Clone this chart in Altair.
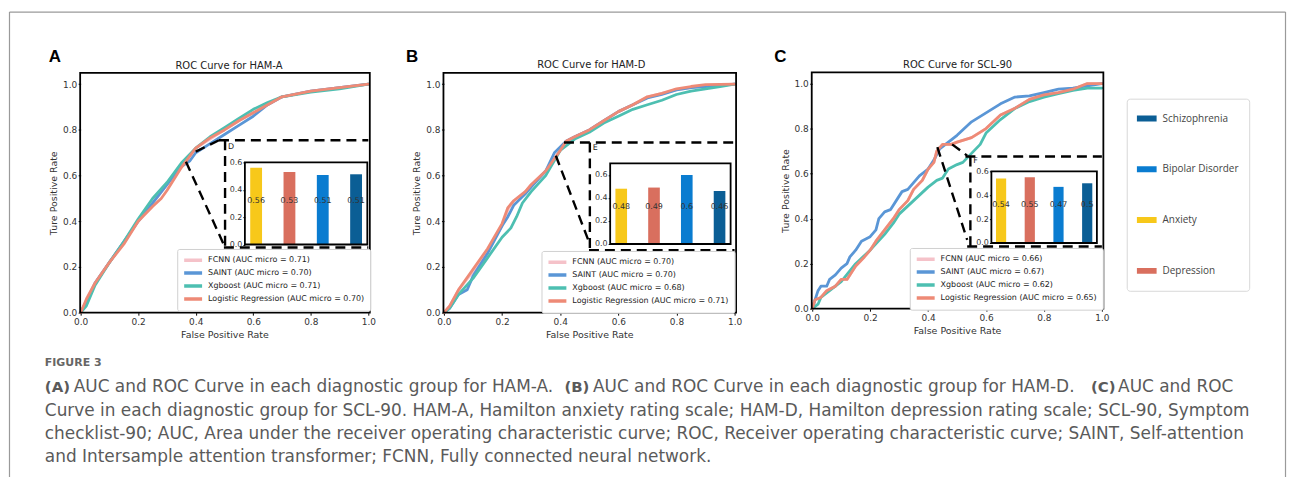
import altair as alt
import pandas as pd

W, H = 1285, 470


def P(v):
    """page pixel -> chart pixel (page has an 8px margin)"""
    return v - 8


# ------------------------------------------------------------------ data
models = ["FCNN", "SAINT", "Xgboost", "Logistic Regression"]
model_colors = ["#F5C2C9", "#5A96D6", "#4DBFB1", "#EE8A76"]

panel_ids = ["A", "B", "C"]
panel_titles = ["ROC Curve for HAM-A", "ROC Curve for HAM-D", "ROC Curve for SCL-90"]
inset_letters = ["D", "E", "F"]

auc_A = [0.71, 0.70, 0.71, 0.70]
auc_B = [0.70, 0.70, 0.68, 0.71]
auc_C = [0.66, 0.67, 0.62, 0.65]

# ROC curves (false positive rate, true positive rate)
A_fcnn_x = [0, 0.02, 0.05, 0.1, 0.15, 0.2, 0.25, 0.3, 0.35, 0.4, 0.45, 0.5, 0.55, 0.6, 0.65, 0.7, 0.8, 0.9, 1.0]
A_fcnn_y = [0, 0.05, 0.13, 0.22, 0.31, 0.40, 0.48, 0.56, 0.65, 0.72, 0.76, 0.80, 0.84, 0.875, 0.91, 0.945, 0.97, 0.985, 1.0]
A_saint_x = [0, 0.02, 0.05, 0.1, 0.15, 0.2, 0.25, 0.3, 0.35, 0.38, 0.4, 0.45, 0.5, 0.55, 0.6, 0.65, 0.7, 0.8, 0.9, 1.0]
A_saint_y = [0, 0.05, 0.13, 0.22, 0.31, 0.40, 0.48, 0.56, 0.64, 0.665, 0.70, 0.74, 0.78, 0.82, 0.86, 0.91, 0.945, 0.97, 0.985, 1.0]
A_xgb_x = [0, 0.02, 0.05, 0.1, 0.15, 0.2, 0.25, 0.3, 0.35, 0.4, 0.45, 0.5, 0.55, 0.6, 0.65, 0.7, 0.8, 0.9, 1.0]
A_xgb_y = [0, 0.03, 0.12, 0.22, 0.31, 0.41, 0.50, 0.57, 0.655, 0.72, 0.77, 0.81, 0.85, 0.89, 0.92, 0.945, 0.965, 0.98, 1.0]
A_lr_x = [0, 0.02, 0.05, 0.1, 0.15, 0.2, 0.25, 0.28, 0.3, 0.35, 0.4, 0.45, 0.5, 0.55, 0.6, 0.65, 0.7, 0.8, 0.9, 1.0]
A_lr_y = [0, 0.06, 0.13, 0.22, 0.30, 0.40, 0.465, 0.50, 0.535, 0.635, 0.72, 0.765, 0.80, 0.84, 0.875, 0.91, 0.945, 0.97, 0.985, 1.0]

B_fcnn_x = [0, 0.02, 0.05, 0.1, 0.15, 0.2, 0.22, 0.24, 0.28, 0.3, 0.35, 0.4, 0.42, 0.45, 0.5, 0.55, 0.6, 0.65, 0.7, 0.75, 0.8, 0.85, 0.9, 1.0]
B_fcnn_y = [0, 0.03, 0.10, 0.18, 0.27, 0.38, 0.45, 0.49, 0.53, 0.56, 0.62, 0.71, 0.75, 0.77, 0.80, 0.84, 0.88, 0.91, 0.945, 0.96, 0.975, 0.985, 0.995, 1.0]
B_saint_x = [0, 0.02, 0.05, 0.08, 0.1, 0.15, 0.2, 0.22, 0.24, 0.28, 0.3, 0.35, 0.38, 0.42, 0.45, 0.5, 0.55, 0.6, 0.65, 0.7, 0.75, 0.8, 0.85, 0.9, 1.0]
B_saint_y = [0, 0.02, 0.08, 0.10, 0.16, 0.26, 0.38, 0.42, 0.47, 0.52, 0.55, 0.62, 0.70, 0.75, 0.77, 0.80, 0.84, 0.88, 0.91, 0.94, 0.955, 0.975, 0.985, 0.99, 1.0]
B_xgb_x = [0, 0.02, 0.05, 0.1, 0.15, 0.2, 0.23, 0.25, 0.27, 0.3, 0.35, 0.4, 0.45, 0.5, 0.55, 0.6, 0.65, 0.7, 0.75, 0.8, 0.85, 0.9, 0.95, 1.0]
B_xgb_y = [0, 0.02, 0.08, 0.15, 0.24, 0.33, 0.37, 0.42, 0.48, 0.53, 0.60, 0.71, 0.76, 0.79, 0.83, 0.86, 0.89, 0.91, 0.93, 0.955, 0.97, 0.98, 0.99, 1.0]
B_lr_x = [0, 0.02, 0.05, 0.1, 0.15, 0.2, 0.22, 0.24, 0.28, 0.3, 0.35, 0.4, 0.42, 0.45, 0.5, 0.55, 0.6, 0.65, 0.7, 0.75, 0.8, 0.85, 0.9, 1.0]
B_lr_y = [0, 0.03, 0.10, 0.19, 0.28, 0.39, 0.46, 0.49, 0.53, 0.56, 0.62, 0.71, 0.75, 0.77, 0.80, 0.84, 0.88, 0.91, 0.945, 0.96, 0.98, 0.99, 0.998, 1.0]

C_fcnn_x = [0, 0.01, 0.03, 0.05, 0.08, 0.1, 0.12, 0.13, 0.15, 0.18, 0.2, 0.22, 0.25, 0.28, 0.3, 0.33, 0.35, 0.38, 0.4, 0.42, 0.43, 0.45, 0.48, 0.5, 0.55, 0.6, 0.65, 0.7, 0.75, 0.8, 0.85, 0.9, 0.93, 0.95, 1.0]
C_fcnn_y = [0, 0.04, 0.05, 0.08, 0.10, 0.13, 0.13, 0.15, 0.19, 0.23, 0.26, 0.30, 0.35, 0.40, 0.44, 0.48, 0.53, 0.57, 0.62, 0.65, 0.70, 0.73, 0.73, 0.74, 0.76, 0.80, 0.86, 0.89, 0.93, 0.95, 0.96, 0.975, 0.99, 1.0, 1.0]
C_saint_x = [0, 0.01, 0.02, 0.03, 0.05, 0.06, 0.08, 0.1, 0.12, 0.13, 0.15, 0.17, 0.2, 0.22, 0.23, 0.25, 0.27, 0.3, 0.31, 0.33, 0.35, 0.37, 0.38, 0.4, 0.42, 0.44, 0.46, 0.5, 0.55, 0.6, 0.65, 0.7, 0.75, 0.8, 0.85, 0.9, 0.95, 1.0]
C_saint_y = [0, 0.04, 0.08, 0.10, 0.10, 0.13, 0.15, 0.18, 0.20, 0.23, 0.26, 0.30, 0.32, 0.35, 0.40, 0.43, 0.44, 0.50, 0.52, 0.53, 0.56, 0.59, 0.60, 0.62, 0.66, 0.71, 0.73, 0.77, 0.83, 0.87, 0.91, 0.94, 0.945, 0.96, 0.975, 0.98, 0.99, 1.0]
C_xgb_x = [0, 0.02, 0.03, 0.05, 0.08, 0.1, 0.15, 0.2, 0.25, 0.28, 0.3, 0.35, 0.4, 0.43, 0.45, 0.47, 0.5, 0.52, 0.55, 0.58, 0.6, 0.65, 0.7, 0.75, 0.8, 0.85, 0.9, 0.95, 1.0]
C_xgb_y = [0, 0.02, 0.05, 0.07, 0.10, 0.12, 0.20, 0.26, 0.33, 0.38, 0.42, 0.48, 0.54, 0.57, 0.58, 0.62, 0.64, 0.65, 0.69, 0.73, 0.78, 0.84, 0.89, 0.92, 0.94, 0.955, 0.97, 0.98, 0.98]
C_lr_x = [0, 0.01, 0.03, 0.05, 0.08, 0.1, 0.12, 0.13, 0.15, 0.18, 0.2, 0.22, 0.25, 0.28, 0.3, 0.33, 0.35, 0.38, 0.4, 0.42, 0.43, 0.45, 0.48, 0.5, 0.55, 0.6, 0.65, 0.7, 0.75, 0.8, 0.85, 0.9, 0.93, 0.95, 1.0]
C_lr_y = [0, 0.04, 0.05, 0.08, 0.10, 0.13, 0.13, 0.15, 0.19, 0.23, 0.26, 0.30, 0.35, 0.40, 0.44, 0.48, 0.53, 0.57, 0.62, 0.65, 0.70, 0.73, 0.73, 0.74, 0.76, 0.80, 0.86, 0.89, 0.93, 0.95, 0.96, 0.975, 0.99, 1.0, 1.0]

roc = {
    "A": [(A_fcnn_x, A_fcnn_y), (A_saint_x, A_saint_y), (A_xgb_x, A_xgb_y), (A_lr_x, A_lr_y)],
    "B": [(B_fcnn_x, B_fcnn_y), (B_saint_x, B_saint_y), (B_xgb_x, B_xgb_y), (B_lr_x, B_lr_y)],
    "C": [(C_fcnn_x, C_fcnn_y), (C_saint_x, C_saint_y), (C_xgb_x, C_xgb_y), (C_lr_x, C_lr_y)],
}
aucs = {"A": auc_A, "B": auc_B, "C": auc_C}

# inset bar charts (per diagnostic group)
bar_groups = ["Anxiety", "Depression", "Bipolar Disorder", "Schizophrenia"]
legend_groups = ["Schizophrenia", "Bipolar Disorder", "Anxiety", "Depression"]
group_colors = ["#0B5E95", "#0A7CD0", "#F7C81A", "#D96F5E"]
bars_A = [0.56, 0.53, 0.507, 0.513]
bars_B = [0.48, 0.49, 0.60, 0.46]
bars_C = [0.54, 0.55, 0.47, 0.50]
bars = {"A": bars_A, "B": bars_B, "C": bars_C}
inset_top = {"A": 0.6, "B": 0.7, "C": 0.6}
bar_label_level = 0.32

# zoom-box dashed outline (in ROC data units)
zoom_box = {
    "A": dict(top=0.755, bottom=0.285, left=0.502, top_start=0.481, bottom_start=0.498),
    "B": dict(top=0.745, bottom=0.273, left=0.502, top_start=0.413, bottom_start=0.499),
    "C": dict(top=0.676, bottom=0.276, left=0.546, top_start=0.529, bottom_start=0.535),
}
# connector lines (x1, y1, x2, y2) in ROC data units
connectors = {
    "A": [(0.40, 0.705, 0.481, 0.755), (0.366, 0.661, 0.498, 0.297)],
    "B": [(0.385, 0.687, 0.499, 0.31)],
    "C": [(0.432, 0.718, 0.535, 0.306), (0.483, 0.73, 0.535, 0.68)],
}

caption_title = "FIGURE 3"
caption_lines = [
    [("(A)", True), ("AUC and ROC Curve in each diagnostic group for HAM-A.", False),
     ("(B)", True), ("AUC and ROC Curve in each diagnostic group for HAM-D.", False),
     ("(C)", True), ("AUC and ROC", False)],
    [("Curve in each diagnostic group for SCL-90. HAM-A, Hamilton anxiety rating scale; HAM-D, Hamilton depression rating scale; SCL-90, Symptom", False)],
    [("checklist-90; AUC, Area under the receiver operating characteristic curve; ROC, Receiver operating characteristic curve; SAINT, Self-attention", False)],
    [("and Intersample attention transformer; FCNN, Fully connected neural network.", False)],
]

# ------------------------------------------------------------------ layout (page pixels)
layout = {
    "A": dict(x=(81, 370), y=(313, 72), ix=(246, 369), iy=(244.5, 162), legend=(178, 249),
              title=(230, 65), letter=(55, 56), inset_letter=(232, 147)),
    "B": dict(x=(446, 738), y=(313, 72), ix=(613, 734), iy=(244, 163), legend=(544, 251),
              title=(594, 64), letter=(414, 56), inset_letter=(598, 148)),
    "C": dict(x=(816, 1107), y=(309, 71.5), ix=(996, 1102), iy=(243, 171), legend=(914, 248),
              title=(962, 64), letter=(784, 56), inset_letter=(980, 161)),
}
caption_seg_x = [[45, 74, 567, 595.7, 1096, 1123.3], [45], [45], [45]]
caption_line_y = [388, 411.7, 435, 458.3]
caption_title_pos = (45, 364)

ONE = alt.Data(values=[{}])
FONT = "DejaVu Sans"


def text_at(txt, x, y, size, color="#222", weight="normal", font=FONT, align="center", baseline="middle"):
    return alt.Chart(ONE).mark_text(text=txt, font=font, fontSize=size, fontWeight=weight, color=color,
                                    align=align, baseline=baseline).encode(
        x=alt.value(P(x)), y=alt.value(P(y)))


def frame_rect(x0, x1, y0, y1, width=1.4):
    return alt.Chart(ONE).mark_rect(fillOpacity=0, stroke="black", strokeWidth=width).encode(
        x=alt.value(P(x0)), x2=alt.value(P(x1)), y=alt.value(P(y0)), y2=alt.value(P(y1)))


def roc_part(pid):
    lx = layout[pid]
    labels = [f"{m} (AUC micro = {a:.2f})" for m, a in zip(models, aucs[pid])]
    xs = alt.Scale(domain=[0, 1], range=[P(lx["x"][0]), P(lx["x"][1])], nice=False)
    ys = alt.Scale(domain=[0, 1.05], range=[P(lx["y"][0]), P(lx["y"][1])], nice=False)
    cs = alt.Scale(domain=labels, range=model_colors)
    xaxis = alt.Axis(orient="bottom", offset=P(lx["y"][0]) - H, values=[0, 0.2, 0.4, 0.6, 0.8, 1.0],
                     format=".1f", grid=False, domain=False, tickSize=2.5, tickColor="#000",
                     labelFlush=False, labelOverlap=False,
                     labelPadding=2, labelFont=FONT, labelFontSize=9, labelColor="#333",
                     title="False Positive Rate", titleFont=FONT, titleFontSize=9.5,
                     titleFontWeight="normal", titleColor="#333", titlePadding=3)
    yaxis = alt.Axis(orient="left", offset=-P(lx["x"][0]), values=[0, 0.2, 0.4, 0.6, 0.8, 1.0],
                     format=".1f", grid=False, domain=False, tickSize=2.5, tickColor="#000",
                     labelFlush=False, labelOverlap=False,
                     labelPadding=1.5, labelFont=FONT, labelFontSize=9, labelColor="#333",
                     title="Ture Positive Rate", titleFont=FONT, titleFontSize=9.5,
                     titleFontWeight="normal", titleColor="#333", titlePadding=4)
    legend = alt.Legend(orient="none", legendX=P(lx["legend"][0]), legendY=P(lx["legend"][1]), title=None,
                        symbolType="stroke", symbolStrokeWidth=3.5, symbolSize=324, clipHeight=12.5,
                        rowPadding=0, labelFont=FONT, labelFontSize=8, labelColor="#222", labelOffset=4,
                        padding=5, strokeColor="#d0d0d0", fillColor="white", cornerRadius=2, labelLimit=400)
    layers = []
    for i, (fx, fy) in enumerate(roc[pid]):
        df = pd.DataFrame({"fpr": fx, "tpr": fy, "model": labels[i], "step": list(range(len(fx)))})
        layers.append(
            alt.Chart(df).mark_line(strokeWidth=2.8, strokeJoin="round", strokeCap="round").encode(
                x=alt.X("fpr:Q", scale=xs, axis=xaxis),
                y=alt.Y("tpr:Q", scale=ys, axis=yaxis),
                color=alt.Color("model:N", scale=cs, legend=legend),
                order="step:Q",
            )
        )
    zb = zoom_box[pid]
    seg = [(zb["top_start"], zb["top"], 1.0, zb["top"]),
           (zb["bottom_start"], zb["bottom"], 1.0, zb["bottom"]),
           (zb["left"], zb["top"], zb["left"], zb["bottom"])] + connectors[pid]
    segdf = pd.DataFrame(seg, columns=["fpr", "tpr", "fpr2", "tpr2"])
    layers.append(
        alt.Chart(segdf).mark_rule(strokeDash=[10, 6], strokeWidth=2.4, color="black").encode(
            x=alt.X("fpr:Q", scale=xs, axis=xaxis), y=alt.Y("tpr:Q", scale=ys, axis=yaxis),
            x2="fpr2:Q", y2="tpr2:Q")
    )
    return alt.layer(*layers)


def inset_part(pid, show_legend):
    lx = layout[pid]
    vals = bars[pid]
    df = pd.DataFrame({"group": bar_groups, "value": vals,
                       "label": [f"{round(v, 2):g}" for v in vals]})
    xs = alt.Scale(domain=bar_groups, range=[P(lx["ix"][0]), P(lx["ix"][1])],
                   paddingInner=0.645, paddingOuter=0.16)
    ys = alt.Scale(domain=[0, inset_top[pid]], range=[P(lx["iy"][0]), P(lx["iy"][1])], nice=False)
    cs = alt.Scale(domain=legend_groups, range=group_colors)
    yax = alt.Axis(orient="left", offset=-P(lx["ix"][0]), values=[0, 0.2, 0.4, 0.6], format=".1f",
                   grid=False, domain=False, tickSize=2, tickColor="#000", labelPadding=1,
                   labelFlush=False, labelOverlap=False,
                   labelFont=FONT, labelFontSize=8, labelColor="#333", title=None)
    if show_legend:
        leg = alt.Legend(orient="none", legendX=P(1132), legendY=P(98), title=None,
                         symbolType="M-1,-0.3L1,-0.3L1,0.3L-1,0.3Z", symbolSize=400, symbolStrokeWidth=0,
                         clipHeight=20, rowPadding=31, labelFont="Open Sans", labelFontSize=10,
                         labelColor="#444", labelOffset=6, padding=10, strokeColor="#d8d8d8",
                         fillColor="white", cornerRadius=3)
    else:
        leg = None
    b = alt.Chart(df).mark_bar().encode(
        x=alt.X("group:N", scale=xs, axis=None, sort=bar_groups),
        y=alt.Y("value:Q", scale=ys, axis=yax),
        color=alt.Color("group:N", scale=cs, legend=leg),
    )
    t = alt.Chart(df).mark_text(font=FONT, fontSize=8, color="#333", baseline="middle").encode(
        x=alt.X("group:N", scale=xs, axis=None, sort=bar_groups),
        y=alt.datum(bar_label_level, axis=yax),
        text="label:N",
    )
    return alt.layer(b, t)


panels = []
for k, pid in enumerate(panel_ids):
    lx = layout[pid]
    part = alt.layer(
        roc_part(pid),
        inset_part(pid, show_legend=(pid == "C")),
        frame_rect(lx["x"][0] - 0.5, lx["x"][1] + 1.5, lx["y"][0], lx["y"][1], 1.8),
        frame_rect(lx["ix"][0], lx["ix"][1], lx["iy"][0], lx["iy"][1], 1.8),
        text_at(panel_titles[k], lx["title"][0], lx["title"][1], 10, "#222"),
        text_at(pid, lx["letter"][0], lx["letter"][1], 17, "#000", "bold", "Liberation Sans"),
        text_at(inset_letters[k], lx["inset_letter"][0], lx["inset_letter"][1], 8, "#222"),
    ).resolve_scale(x="independent", y="independent", color="independent")
    panels.append(part)

caption = [text_at(caption_title, caption_title_pos[0], caption_title_pos[1], 11, "#666", "bold",
                   align="left")]
for segs, xs_, y in zip(caption_lines, caption_seg_x, caption_line_y):
    for (txt, bold), x in zip(segs, xs_):
        caption.append(text_at(txt, x, y, 15 if bold else 17, "#5a5a5a", "bold" if bold else "normal",
                               align="left"))

border_color = "#9a9a9a"
border = [
    alt.Chart(ONE).mark_rule(color=border_color, strokeWidth=1.2).encode(
        x=alt.value(P(9.5)), y=alt.value(P(11)), y2=alt.value(H)),
    alt.Chart(ONE).mark_rule(color=border_color, strokeWidth=1.2).encode(
        x=alt.value(P(9.5)), x2=alt.value(P(1291.5)), y=alt.value(P(11))),
    alt.Chart(ONE).mark_rule(color=border_color, strokeWidth=1.2).encode(
        x=alt.value(P(1291.5)), y=alt.value(P(11)), y2=alt.value(H)),
]

chart = alt.layer(*panels, *caption, *border).resolve_scale(
    x="independent", y="independent", color="independent"
).properties(
    width=W, height=H, autosize=alt.AutoSizeParams(type="none"), padding=0, background="white"
).configure_view(stroke=None)

chart.save("out.html", embed_options={"renderer": "svg", "actions": False})
